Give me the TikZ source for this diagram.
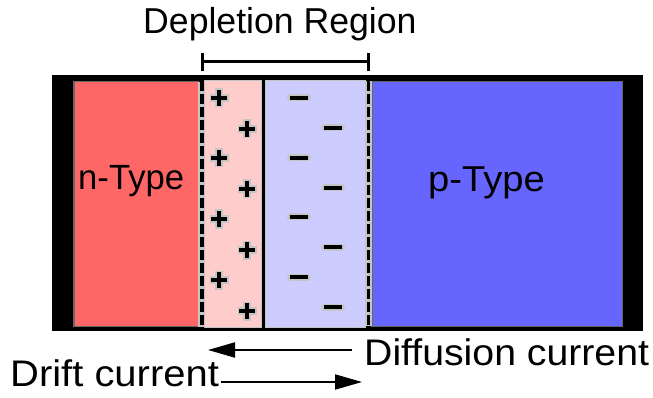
\documentclass[tikz,border=0pt]{standalone}
\usepackage{graphicx}
\usepackage{fontspec}
\setmainfont{Liberation Sans}
\usetikzlibrary{arrows.meta}

\definecolor{nred}{RGB}{255,102,102}
\definecolor{npink}{RGB}{255,204,204}
\definecolor{plav}{RGB}{204,204,255}
\definecolor{pblue}{RGB}{102,102,255}
\definecolor{rim}{RGB}{102,102,102}
\definecolor{halo}{RGB}{196,196,196}

\begin{document}
\begin{tikzpicture}[x=1pt, y=-1pt,
  box/.style={anchor=north west, inner sep=0pt, outer sep=0pt},
  slab/.style={box, fill=#1, draw=rim, line width=1.5pt},
  layer/.style={box, fill=#1, draw=halo, line width=1pt},
  junction/.style={black, line width=3.5pt, dash pattern=on 10pt off 3pt},
  lbl/.style={inner sep=0pt, anchor=base west, font=\fontsize{#1pt}{#1pt}\selectfont},
  flow/.style={line width=2pt, -{Triangle[length=27pt, width=15pt]}},
  plussign/.pic={
    \draw[halo, line width=7.5pt] (-9.5,0) -- (9.5,0) (0,-9.5) -- (0,9.5);
    \draw[black, line width=3.8pt] (-8,0) -- (8,0) (0,-8) -- (0,8);
  },
  minussign/.pic={
    \draw[halo, line width=7pt, line cap=round] (-8.5,0) -- (8.5,0);
    \draw[black, line width=4pt] (-9,0) -- (9,0);
  }
]
\useasboundingbox (0,0) rectangle (653,398);

% device body with metal contacts at both ends
\node[box, fill=black, minimum width=591pt, minimum height=256pt] (body) at (52,75) {};

% n-side bulk and p-side bulk
\node[slab=nred, minimum width=124.5pt, minimum height=244.5pt] (nbulk) at (73.75,81.75) {};
\node[slab=pblue, minimum width=250.5pt, minimum height=244.5pt] (pbulk) at (371.75,81.75) {};

% depletion layers
\node[layer=npink, minimum width=57pt, minimum height=246pt] (nlayer) at (204.5,81) {};
\node[layer=plav, minimum width=100pt, minimum height=246pt] (player) at (265.5,81) {};

% dashed edges of the depletion region
\fill[halo] (nbulk.north east) rectangle (nlayer.south west);
\fill[halo] (player.north east) rectangle (pbulk.south west);
\draw[junction] (202,81) -- (202,327);
\draw[junction] (368.5,81) -- (368.5,327);

% fixed positive ions (n side)
\foreach \y [count=\i] in {98,129,158,189,219,250,280,311}{
  \pgfmathsetmacro{\xx}{mod(\i,2)==1 ? 219 : 247}
  \pic at (\xx,\y) {plussign};
}
% fixed negative ions (p side)
\foreach \y [count=\i] in {98,128,158,188,217,247,277,307}{
  \pgfmathsetmacro{\xx}{mod(\i,2)==1 ? 299 : 333}
  \pic at (\xx,\y) {minussign};
}

% labels inside the bulk regions
\node[lbl=35] (ntext) at (78,190) {\scalebox{0.99}[1]{n-Type}};
\node[lbl=36] (ptext) at (428,192) {\scalebox{1.06}[1]{p-Type}};

% depletion region span
\coordinate (brL) at (202,61.5);
\coordinate (brR) at (368.5,61.5);
\draw[line width=3pt] (brL) -- (brR);
\draw[line width=3pt] ([yshift=-9.5pt]brL) -- ([yshift=8.5pt]brL);
\draw[line width=3pt] ([yshift=-9.5pt]brR) -- ([yshift=8.5pt]brR);
\node[lbl=36] (deptext) at (143,34) {\scalebox{0.99}[1]{Depletion Region}};

% currents
\node[lbl=37] (difftext) at (364,365) {\scalebox{1.06}[1]{Diffusion current}};
\node[lbl=37] (drifttext) at (10,386) {\scalebox{1.08}[1]{Drift current}};
\coordinate (diffS) at (352,350);
\coordinate (diffE) at (208,350);
\coordinate (driftS) at (221,382);
\coordinate (driftE) at (362,382);
\draw[flow] (diffS) -- (diffE);
\draw[flow] (driftS) -- (driftE);
\end{tikzpicture}
\end{document}
